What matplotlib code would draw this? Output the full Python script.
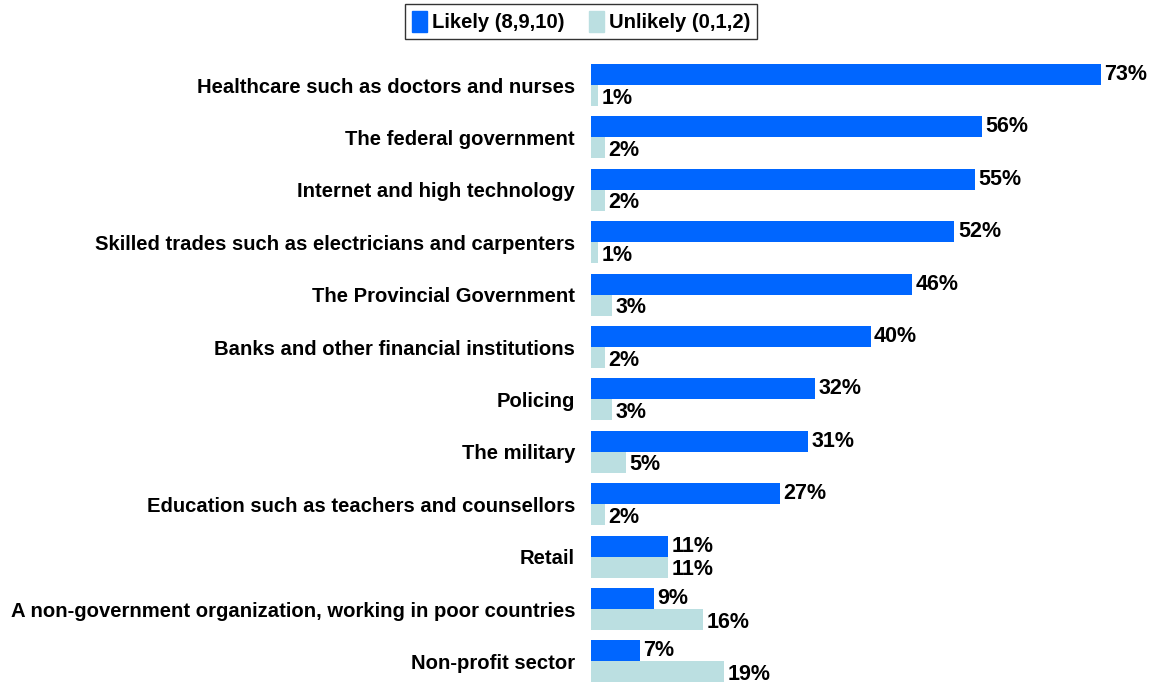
import matplotlib.pyplot as plt
from matplotlib.patches import Patch

plt.rcParams['font.family'] = ['Liberation Sans', 'DejaVu Sans']
plt.rcParams['font.weight'] = 'bold'

categories = [
    "Healthcare such as doctors and nurses",
    "The federal government",
    "Internet and high technology",
    "Skilled trades such as electricians and carpenters",
    "The Provincial Government",
    "Banks and other financial institutions",
    "Policing",
    "The military",
    "Education such as teachers and counsellors",
    "Retail",
    "A non-government organization, working in poor countries",
    "Non-profit sector",
]
likely = [73, 56, 55, 52, 46, 40, 32, 31, 27, 11, 9, 7]
unlikely = [1, 2, 2, 1, 3, 2, 3, 5, 2, 11, 16, 19]

blue = '#0066FF'
pale = '#BBDFE1'

W, H = 1158, 685
fig = plt.figure(figsize=(W / 100, H / 100), dpi=100)
ax = fig.add_axes([591 / W, 0, (1150 - 591) / W, 1 - 53.6 / H])

h = 0.4
ypos = list(range(len(categories)))
ax.barh([y - h / 2 for y in ypos], likely, height=h, color=blue)
ax.barh([y + h / 2 for y in ypos], unlikely, height=h, color=pale)

for y, v in zip(ypos, likely):
    ax.text(v + 0.5, y - h / 2, f"{v}%", va='center', ha='left', fontsize=15.5, fontweight='bold')
for y, v in zip(ypos, unlikely):
    ax.text(v + 0.5, y + h / 2 + 0.05, f"{v}%", va='center', ha='left', fontsize=15.5, fontweight='bold')

ax.set_xlim(0, 80)
ax.set_ylim(11.45, -0.6)
ax.set_yticks(ypos)
ax.set_yticklabels(categories, fontsize=14.6, fontweight='bold')
ax.tick_params(axis='y', length=0, pad=11.5)
ax.set_xticks([])
for s in ax.spines.values():
    s.set_visible(False)

handles = [Patch(color=blue, label='Likely (8,9,10)'),
           Patch(color=pale, label='Unlikely (0,1,2)')]
leg = fig.legend(handles=handles, loc='center', bbox_to_anchor=(581 / W, 1 - 21.5 / H),
                 ncol=2, frameon=True, fancybox=False, fontsize=14.6,
                 handlelength=0.75, handleheight=1.2, handletextpad=0.25,
                 columnspacing=1.2, borderpad=0.35, borderaxespad=0)
leg.get_frame().set_edgecolor('black')
leg.get_frame().set_linewidth(1.0)

fig.savefig('out.png', dpi=100)
